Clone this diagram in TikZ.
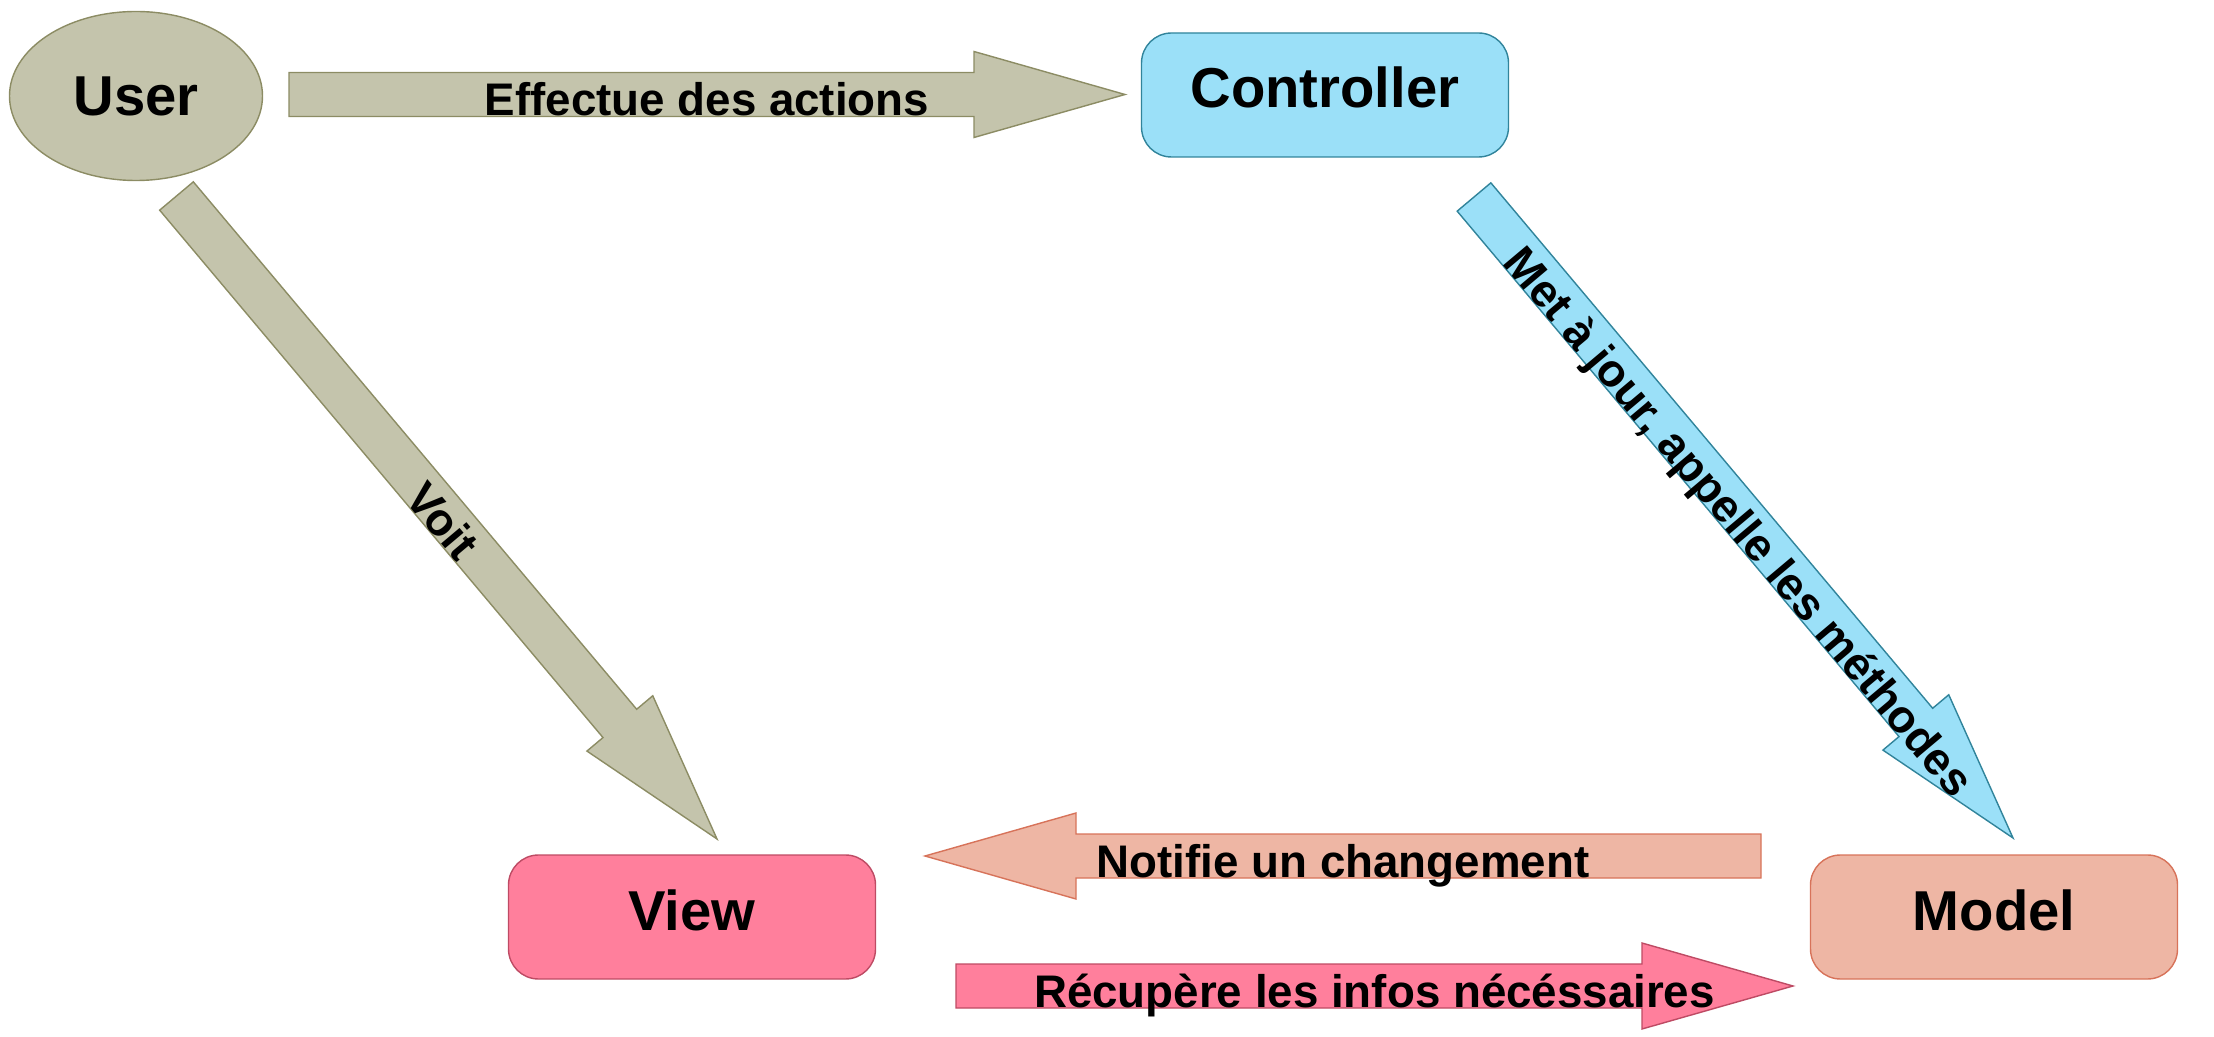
\documentclass[tikz,border=0pt]{standalone}
\usepackage{fontspec}
\setmainfont{Liberation Sans}
\usepackage{tikz}
\usetikzlibrary{calc,shapes.geometric}
\definecolor{userfill}{RGB}{196,196,172}
\definecolor{userline}{RGB}{140,140,100}
\definecolor{ctrlfill}{RGB}{155,224,248}
\definecolor{ctrlline}{RGB}{49,132,155}
\definecolor{viewfill}{RGB}{255,127,156}
\definecolor{viewline}{RGB}{190,75,100}
\definecolor{modelfill}{RGB}{238,182,164}
\definecolor{modelline}{RGB}{215,115,90}
\def\blockarrow[#1](#2)(#3)#4{%
	\coordinate (hb) at ($(#3)!1.51cm!(#2)$);
	\draw[#1] ($(#2)!0.22cm!90:(#3)$) -- ($(hb)!0.22cm!90:(#3)$) -- ($(hb)!0.43cm!90:(#3)$) -- (#3)
		-- ($(hb)!0.43cm!-90:(#3)$) -- ($(hb)!0.22cm!-90:(#3)$) -- ($(#2)!0.22cm!-90:(#3)$) -- cycle;
	\path (#2) -- (#3) node[midway, sloped, lbl] {#4};}

\begin{document}
\begin{tikzpicture}[
	box/.style={draw, line width=0.4pt, rounded corners=0.3cm, minimum width=3.67cm, minimum height=1.24cm, text height=0.4cm, text depth=0.14cm, font=\fontsize{16}{19}\selectfont\bfseries},
	lbl/.style={font=\fontsize{13}{15}\selectfont\bfseries, inner sep=0pt, text height=0.43cm, text depth=0cm},
	arr/.style={line width=0.4pt, line join=miter}]
			%%%%% START %%%%%
			\useasboundingbox (0, 0) rectangle (22.14, 10.36);
			
			\node[ellipse, draw=userline, fill=userfill, line width=0.4pt, minimum width=2.53cm, minimum height=1.69cm, font=\fontsize{16}{19}\selectfont\bfseries] (User) at (1.36, 9.40) {User};
			\node[box, draw=ctrlline, fill=ctrlfill] (Controller) at (13.25, 9.41) {Controller};
			\node[box, draw=viewline, fill=viewfill] (View) at (6.92, 1.19) {View};
			\node[box, draw=modelline, fill=modelfill] (Model) at (19.94, 1.19) {Model};
			
			\coordinate (act-s) at (2.89, 9.415);
			\coordinate (act-e) at (11.25, 9.415);
			\coordinate (see-s) at (1.765, 8.40);
			\coordinate (see-e) at (7.17, 1.97);
			\coordinate (upd-s) at (14.74, 8.39);
			\coordinate (upd-e) at (20.13, 1.98);
			\coordinate (note-s) at (17.61, 1.80);
			\coordinate (note-e) at (9.25, 1.80);
			\coordinate (get-s) at (9.56, 0.50);
			\coordinate (get-e) at (17.93, 0.50);
			
			\blockarrow[arr, draw=userline, fill=userfill](act-s)(act-e){Effectue des actions}
			\blockarrow[arr, draw=userline, fill=userfill](see-s)(see-e){Voit}
			\blockarrow[arr, draw=ctrlline, fill=ctrlfill](upd-s)(upd-e){Met à jour, appelle les méthodes}
			\blockarrow[arr, draw=modelline, fill=modelfill](note-s)(note-e){Notifie un changement}
			\blockarrow[arr, draw=viewline, fill=viewfill](get-s)(get-e){Récupère les infos nécéssaires}
			
			%%%%% END %%%%%
\end{tikzpicture}
\end{document}
